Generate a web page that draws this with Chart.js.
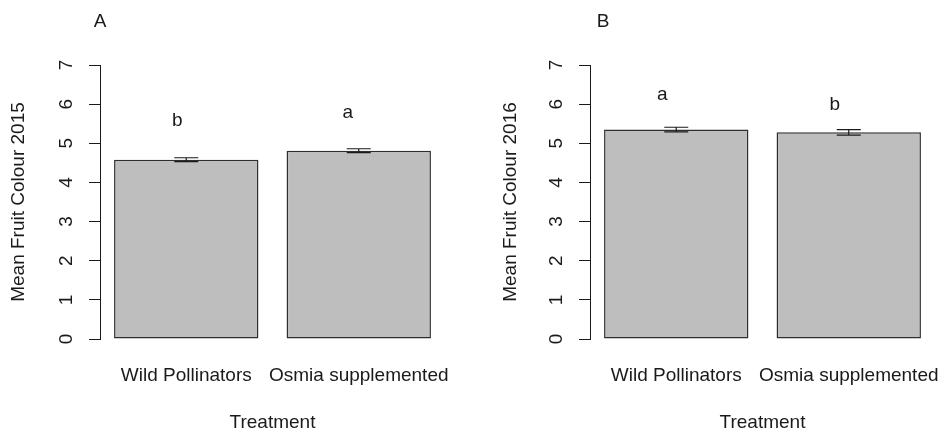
<!DOCTYPE html>
<html>
<head>
<meta charset="utf-8">
<script src="https://cdn.jsdelivr.net/npm/chart.js@4.4.1/dist/chart.umd.min.js"></script>
<style>
  html, body { margin: 0; padding: 0; background: #fff; }
  #wrap { position: relative; width: 945px; height: 432px; overflow: hidden; }
  #wrap canvas { position: absolute; top: 0; }
</style>
</head>
<body>
<div id="wrap">
  <canvas id="chartA" width="472" height="432" style="left:0"></canvas>
  <canvas id="chartB" width="455" height="432" style="left:490px"></canvas>
</div>
<script>
// data
const treatments = ['Wild Pollinators', 'Osmia supplemented'];
const yTicks = [0, 1, 2, 3, 4, 5, 6, 7];

const mean2015 = [4.58, 4.81];
const se2015 = [0.05, 0.05];
const letters2015 = ['b', 'a'];
const letterY2015 = [5.44, 5.65];

const mean2016 = [5.35, 5.28];
const se2016 = [0.06, 0.07];
const letters2016 = ['a', 'b'];
const letterY2016 = [6.11, 5.85];

const FONT = '"Liberation Sans", Arial, Helvetica, sans-serif';
const INK = '#1a1a1a';

// error bars, significance letters, rotated y tick labels, panel tag
const extras = {
  id: 'extras',
  afterDatasetsDraw(chart, args, opts) {
    const ctx = chart.ctx;
    const xs = chart.scales.x, ys = chart.scales.y;
    const means = chart.data.datasets[0].data;
    ctx.save();
    ctx.strokeStyle = INK;
    ctx.lineWidth = 1.2;
    means.forEach((m, i) => {
      const cx = xs.getPixelForValue(i);
      const hi = ys.getPixelForValue(m + opts.se[i]);
      const lo = ys.getPixelForValue(m - opts.se[i]);
      ctx.beginPath();
      ctx.moveTo(cx, hi); ctx.lineTo(cx, lo);
      ctx.moveTo(cx - 12, hi); ctx.lineTo(cx + 12, hi);
      ctx.moveTo(cx - 12, lo); ctx.lineTo(cx + 12, lo);
      ctx.stroke();
    });

    ctx.fillStyle = INK;
    ctx.font = '19px ' + FONT;
    ctx.textAlign = 'center';
    ctx.textBaseline = 'alphabetic';
    opts.letters.forEach((l, i) => {
      ctx.fillText(l, xs.getPixelForValue(i) + opts.letterDx[i], ys.getPixelForValue(opts.letterY[i]));
    });

    yTicks.forEach(v => {
      ctx.save();
      ctx.translate(ys.right - 28, ys.getPixelForValue(v));
      ctx.rotate(-Math.PI / 2);
      ctx.fillText(String(v), 0, 0);
      ctx.restore();
    });

    ctx.fillText(opts.tag, opts.tagX, 27);
    ctx.restore();
  }
};

function makePanel(id, means, se, letters, letterY, yTitle, o) {
  return new Chart(document.getElementById(id), {
    type: 'bar',
    data: {
      labels: treatments,
      datasets: [{
        data: means,
        backgroundColor: '#bebebe',
        borderColor: '#2e2e2e',
        borderWidth: 1.5,
        borderSkipped: false,
        categoryPercentage: 1,
        barPercentage: 0.837
      }]
    },
    options: {
      responsive: false,
      animation: false,
      devicePixelRatio: 1,
      layout: { padding: { left: 0, top: 65, right: o.padRight, bottom: 0 } },
      plugins: {
        legend: { display: false },
        tooltip: { enabled: false },
        extras: { se, letters, letterY, letterDx: o.letterDx, tag: o.tag, tagX: o.tagX }
      },
      scales: {
        x: {
          grid: { display: false },
          border: { display: false },
          ticks: {
            color: INK, font: { family: FONT, size: 19 },
            padding: 17, maxRotation: 0, minRotation: 0, autoSkip: false
          },
          title: {
            display: true, text: 'Treatment', color: INK,
            font: { family: FONT, size: 19, lineHeight: 1 },
            padding: { top: 0, bottom: 0 }
          },
          afterFit: s => { s.height = 93; s.paddingLeft = 0; s.paddingRight = 0; }
        },
        y: {
          min: 0, max: 7,
          ticks: { stepSize: 1, display: false },
          grid: { drawOnChartArea: false, drawTicks: true, tickLength: 11, color: INK, lineWidth: 1 },
          border: { display: true, color: INK, width: 1 },
          title: {
            display: true, text: yTitle, color: INK,
            font: { family: FONT, size: 19, lineHeight: 1 },
            padding: { top: o.titlePad, bottom: 0 }
          },
          afterFit: s => { s.width = 100; s.paddingTop = 0; s.paddingBottom = 0; }
        }
      }
    },
    plugins: [extras]
  });
}

makePanel('chartA', mean2015, se2015, letters2015, letterY2015, 'Mean Fruit Colour 2015',
  { padRight: 27, letterDx: [-9, -11], tag: 'A', tagX: 100, titlePad: 9.5 });
makePanel('chartB', mean2016, se2016, letters2016, letterY2016, 'Mean Fruit Colour 2016',
  { padRight: 10, letterDx: [-14, -14], tag: 'B', tagX: 113, titlePad: 11 });
</script>
</body>
</html>
